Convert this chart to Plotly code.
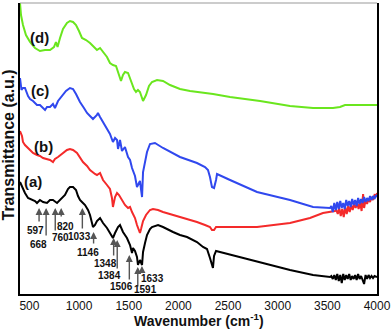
import plotly.graph_objects as go

# ---- data (wavenumber in cm-1, transmittance in arbitrary units) ----
wn_d = [405, 415, 435, 465, 506, 556, 606, 657, 707, 747, 767, 783, 808, 838, 878, 908, 939, 969, 999, 1029,
        1070, 1110, 1150, 1180, 1211, 1241, 1281, 1311, 1341, 1372, 1392, 1422, 1442, 1462, 1493, 1523, 1553,
        1573, 1593, 1613, 1644, 1674, 1704, 1734, 1785, 1845, 1916, 2016, 2117, 2349, 2520, 2822, 3124, 3356,
        3557, 3627, 3678, 3829, 4000]
t_d = [291, 279, 269, 259, 252, 246, 243, 244, 244, 247, 252, 247, 256, 265, 271, 273, 272, 269, 263, 256,
       254, 251, 247, 244, 246, 242, 237, 231, 229, 228, 222, 213, 219, 222, 221, 212, 205, 202, 204, 202,
       193, 199, 208, 212, 214, 213, 209, 205, 203, 200, 197, 193, 188, 186, 186, 187, 189, 189, 189]

wn_c = [405, 420, 435, 455, 486, 506, 536, 576, 606, 637, 657, 677, 707, 737, 757, 788, 828, 868, 908, 939,
        969, 1009, 1049, 1080, 1110, 1140, 1180, 1190, 1211, 1241, 1271, 1311, 1341, 1362, 1382, 1392, 1412,
        1432, 1462, 1493, 1513, 1533, 1563, 1583, 1613, 1634, 1644, 1664, 1684, 1714, 1764, 1845, 1916, 2016,
        2187, 2268, 2298, 2318, 2338, 2359, 2379, 2389, 2520, 2792, 3124, 3356, 3527,
        3540, 3555, 3570, 3585, 3600, 3615, 3630, 3645, 3660, 3675, 3690, 3705, 3720, 3735, 3750, 3765, 3780,
        3795, 3810, 3825, 3840, 3855, 3870, 3885, 3900, 3915, 3930, 3945, 3960, 3975, 3990, 4000]
t_c = [216, 204, 206, 206, 198, 195, 193, 189, 189, 186, 184, 187, 187, 190, 186, 193, 198, 203, 206, 205,
       200, 192, 186, 181, 178, 175, 179, 181, 177, 172, 166, 160, 152, 156, 154, 145, 154,
       143, 147, 137, 134, 126, 118, 107, 113, 97, 122, 134, 142, 150, 151, 146, 142, 137,
       131, 127, 124, 117, 107, 106, 114, 120, 114, 102, 94, 87, 86,
       88, 82, 91, 84, 92, 85, 93, 86, 91, 85, 94, 88, 93, 87, 95, 89, 94,
       88, 96, 90, 95, 91, 97, 92, 96, 93, 98, 94, 98, 95, 99, 97]

wn_b = [405, 425, 435, 455, 506, 536, 576, 606, 637, 677, 707, 737, 757, 788, 838, 878, 908, 939, 979, 1009,
        1039, 1080, 1110, 1160, 1180, 1211, 1241, 1281, 1311, 1331, 1341, 1362, 1382, 1402, 1432, 1462, 1493,
        1513, 1533, 1563, 1583, 1603, 1613, 1624, 1634, 1644, 1674, 1714, 1744, 1795, 1845, 1916, 2016, 2187,
        2268, 2318, 2338, 2359, 2379, 2399, 2520, 2792, 3124, 3325, 3456, 3577,
        3590, 3605, 3620, 3635, 3650, 3665, 3680, 3695, 3710, 3725, 3740, 3755, 3770, 3785, 3800, 3815, 3830,
        3845, 3860, 3870, 3885, 3900, 3915, 3930, 3945, 3960, 3975, 3990, 4000]
t_b = [163, 158, 152, 149, 144, 141, 139, 138, 136, 135, 134, 132, 135, 137, 141, 144, 145, 144, 141, 136,
       132, 128, 124, 120, 119, 121, 114, 109, 105, 96, 87, 97, 101, 99, 94, 89, 86,
       87, 82, 76, 69, 63, 61, 65, 68, 73, 79, 84, 85, 84, 82, 80, 77, 72,
       69, 67, 64, 64, 67, 67, 67, 67, 71, 76, 81, 83,
       84, 80, 86, 78, 85, 77, 87, 80, 88, 82, 89, 84, 90, 86, 91, 85, 92,
       83, 100, 86, 94, 90, 95, 92, 97, 94, 99, 98, 101]

wn_a = [405, 425, 455, 486, 526, 556, 576, 606, 637, 677, 707, 737, 778, 808, 838, 858, 888, 908, 939, 969,
        989, 1009, 1029, 1060, 1090, 1110, 1140, 1160, 1180, 1211, 1241, 1281, 1311, 1341, 1362, 1392, 1412,
        1442, 1482, 1513, 1533, 1543, 1563, 1583, 1593, 1613, 1634, 1644, 1664, 1684, 1714, 1734, 1795, 1845,
        1946, 2016, 2087, 2187, 2248, 2288, 2318, 2338, 2348, 2359, 2379, 2419, 2620, 2792, 3124, 3356, 3527,
        3540, 3555, 3570, 3585, 3600, 3615, 3630, 3645, 3660, 3675, 3690, 3705, 3720, 3735, 3750, 3765, 3780,
        3795, 3810, 3825, 3840, 3855, 3870, 3885, 3900, 3915, 3930, 3945, 3960, 3975, 3990, 4000]
t_a = [112, 107, 101, 96, 94, 93, 91, 94, 92, 91, 94, 94, 91, 94, 97, 99, 105, 107, 107, 104,
       98, 94, 92, 89, 84, 79, 67, 69, 73, 76, 71, 66, 61, 56, 61, 67, 69,
       62, 56, 49, 41, 46, 43, 37, 29, 34, 29, 42, 51, 59, 65, 67, 69, 67,
       62, 59, 57, 52, 47, 45, 36, 28, 26, 38, 43, 42, 37, 32, 24, 19, 17,
       18, 15, 19, 14, 20, 13, 19, 11, 20, 14, 19, 15, 20, 14, 18, 15, 19,
       14, 20, 15, 18, 13, 10, 19, 15, 19, 16, 18, 16, 18, 17, 17]

series_names = ["(a)", "(b)", "(c)", "(d)"]
series_colors = ["#000000", "#f42a2a", "#3048ee", "#6ae61e"]
name_wn = [536, 640, 606, 606]
name_t = [113, 148, 204, 257]

peak_labels = ["597", "668", "760", "820", "1033", "1146", "1348", "1384", "1506", "1591", "1633"]
peak_wn = [597, 668, 760, 820, 1033, 1146, 1348, 1384, 1506, 1591, 1633]
arrow_tip_t = [86, 86, 86, 86, 86, 62, 56, 54, 39, 27, 28]
arrow_tail_t = [71, 57, 62, 76, 64, 49, 37, 24, 13, 6, 21]
label_wn = [563, 596, 808, 865, 1009, 1087, 1261, 1311, 1429, 1664, 1744]
label_t = [64, 50, 57, 68, 58, 42, 31, 19, 8, 5, 16]

FONT = "Arial, Liberation Sans, sans-serif"

fig = go.Figure()
for wn, t, col in [(wn_a, t_a, series_colors[0]), (wn_b, t_b, series_colors[1]),
                   (wn_c, t_c, series_colors[2]), (wn_d, t_d, series_colors[3])]:
    fig.add_trace(go.Scatter(x=wn, y=t, mode="lines", line=dict(color=col, width=2),
                             showlegend=False, hoverinfo="skip"))

ann = []
for nm, x, y in zip(series_names, name_wn, name_t):
    ann.append(dict(x=x, y=y, xref="x", yref="y", text="<b>%s</b>" % nm, showarrow=False,
                    font=dict(family=FONT, size=15, color="#111")))
for w, tip, tail in zip(peak_wn, arrow_tip_t, arrow_tail_t):
    ann.append(dict(x=w, y=tip, ax=w, ay=tail, xref="x", yref="y", axref="x", ayref="y",
                    text="", showarrow=True, arrowhead=2, arrowsize=1, arrowwidth=1.4,
                    arrowcolor="#555", standoff=0, startstandoff=0))
for lab, x, y in zip(peak_labels, label_wn, label_t):
    ann.append(dict(x=x, y=y, xref="x", yref="y", text="<b>%s</b>" % lab, showarrow=False,
                    font=dict(family=FONT, size=10, color="#111")))
ann.append(dict(x=0, y=0.5, xref="paper", yref="paper", xanchor="center", yanchor="middle",
                xshift=-12, yshift=3, text="<b>Transmittance (a.u.)</b>",
                textangle=-90, showarrow=False, font=dict(family=FONT, size=16, color="#111")))
ann.append(dict(x=0.5, y=0, xref="paper", yref="paper", yshift=-26, yanchor="middle",
                text="<b>Wavenumber (cm<sup>-1</sup>)</b>", showarrow=False,
                font=dict(family=FONT, size=14, color="#111")))

fig.update_layout(
    width=392, height=330,
    margin=dict(l=20, r=15, t=3, b=36),
    paper_bgcolor="white", plot_bgcolor="white",
    annotations=ann,
    shapes=[dict(type="line", xref="paper", yref="paper", x0=0, x1=1, y0=1, y1=1,
                 line=dict(color="#999", width=1))],
)
fig.update_xaxes(range=[405, 4000], tickvals=[500, 1000, 1500, 2000, 2500, 3000, 3500, 4000],
                 showgrid=False, zeroline=False, showline=True, linecolor="black", linewidth=2,
                 ticks="", tickfont=dict(family=FONT, size=12, color="#111"), tickprefix="<b>",
                 ticksuffix="</b>", automargin=False)
fig.update_yaxes(range=[0, 291], showticklabels=False, showgrid=False, zeroline=False,
                 showline=True, linecolor="black", linewidth=2, mirror=True, ticks="",
                 automargin=False)

fig.write_html("out.html", config={"displayModeBar": False},
               post_script="document.body.style.margin='0';document.body.style.padding='0';")
